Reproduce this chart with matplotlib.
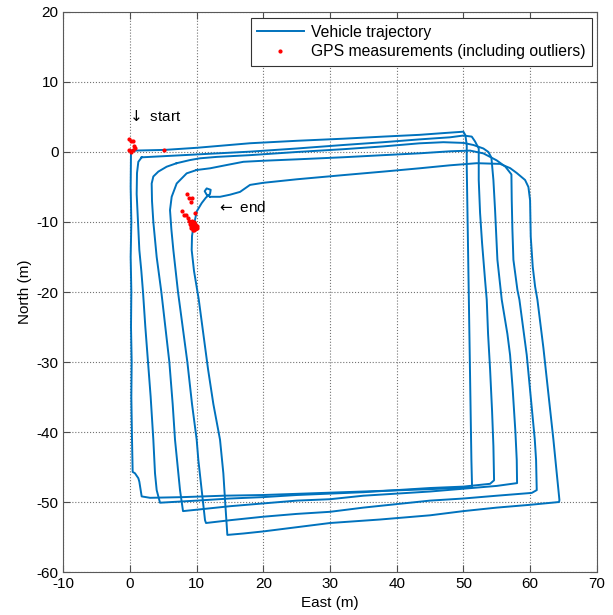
import matplotlib
matplotlib.use("Agg")
import matplotlib.pyplot as plt

plt.rcParams['font.family'] = ['Liberation Sans', 'DejaVu Sans']
plt.rcParams['font.size'] = 11
plt.rcParams['axes.unicode_minus'] = False

# trajectory, one list per lap (east, north in metres)
lap1_e = [0.15, 0.1, 0.2, 0.1, 0.2, 0.15, 0.25, 0.2, 0.3, 0.4, 0.75, 1.25, 1.4, 1.75,
          3, 8, 14, 20, 26, 32, 38, 44, 49, 51.3,
          51.2, 51.1, 51.0, 50.9, 50.8, 50.7, 50.6, 50.5, 50.5, 50.3, 50.0,
          47, 43.4, 38, 32, 25, 18, 10, 5.2, 0.6, 0.15]
lap1_n = [0.2, -5, -10, -15, -20, -25, -30, -35, -41, -45.7, -45.9, -46.6, -47.1, -49.2,
          -49.4, -49.3, -49.1, -49.0, -48.8, -48.6, -48.4, -48.2, -48.0, -47.9,
          -44, -38, -32, -26, -20, -14, -8, -2, 1.0, 2.4, 2.9,
          2.7, 2.45, 2.2, 1.9, 1.6, 1.25, 0.6, 0.3, 0.2, 0.2]

lap2_e = [1.75, 1.25, 1.05, 1.0, 1.2, 1.4, 1.7, 1.95, 2.3, 2.7, 3.1, 3.5, 3.75, 4.0, 4.5,
          10, 15, 20, 25, 30, 35, 40, 45, 50, 54,
          54.6, 54.5, 54.3, 54.0, 53.7, 53.5, 53.25, 52.8, 52.5, 52.3, 52.3, 52.3, 51.75, 51.25, 50,
          48, 43.4, 38, 32, 25, 18, 10, 5, 1.75]
lap2_n = [-0.76, -1.4, -3, -6, -10, -14, -17, -20, -25, -30, -35, -41.1, -45.9, -48.3, -50.1,
          -49.8, -49.5, -49.3, -49.0, -48.8, -48.6, -48.3, -48.0, -47.8, -47.4,
          -46.9, -42, -37, -31, -26, -21.1, -18.3, -13, -8.7, -4, -1.5, 0.5, 1.5, 2.2, 2.35,
          2.1, 1.8, 1.4, 1.0, 0.5, 0.05, -0.35, -0.6, -0.76]

lap3_e = [7, 5.5, 4.25, 3.5, 3.25, 3.3, 3.5, 4.0, 4.7, 5.3, 5.9, 6.4, 6.75, 7.25, 7.5, 7.95,
          10, 15, 20, 25, 30, 35, 40, 45, 50, 55, 58.05,
          58.0, 57.8, 57.4, 57.0, 56.6, 55.75, 55.1, 54.75, 54.5, 54.2, 53.75, 53, 51.5, 50,
          47, 43.4, 38, 32, 25, 18, 13, 10.5, 9, 7]
lap3_n = [-1.6, -2.1, -2.8, -3.5, -4.5, -7, -10, -15, -20, -25, -30, -36, -41.1, -45.9, -48.3, -51.3,
          -51.1, -50.6, -50.2, -49.8, -49.6, -49.1, -48.8, -48.5, -48.1, -47.7, -47.3,
          -44, -40, -34, -29, -26, -21.1, -15.4, -8.3, -4, -0.8, 0, 0.5, 1.0, 1.3,
          1.4, 1.24, 0.8, 0.4, 0.0, -0.45, -0.7, -0.9, -1.15, -1.6]

lap4_e = [10, 8.5, 7, 6.25, 6, 6.2, 6.5, 7.2, 7.9, 8.6, 9.3, 10, 10.25, 10.75, 11.25, 11.4,
          15, 20, 25, 30, 35, 40, 45, 50, 55, 60.25,
          61, 60.9, 60.7, 60.2, 59.5, 58.4, 58.1, 57.5, 57.35, 57.25, 57.2, 56.3, 55, 53, 51, 48,
          43.4, 38, 32, 25, 20, 17, 14.5, 12, 10]
lap4_n = [-2.57, -3.05, -4.5, -6.4, -8.3, -11, -14, -20, -25, -30, -36, -41.1, -44, -48.3, -52.6, -53,
          -52.6, -52.1, -51.7, -51.4, -50.8, -50.3, -49.8, -49.5, -49.1, -48.7,
          -48.3, -44, -41, -36, -29, -21.1, -19.7, -15.4, -11.1, -6.9, -3.2, -2.1, -1.2, -0.2, 0.2, 0.1,
          -0.19, -0.45, -0.75, -1.05, -1.25, -1.4, -1.86, -2.33, -2.57]

lap5_e = [12, 11.5, 11.2, 11.5, 12.1, 12.0, 11.4, 10.75, 10, 9.75, 9.5, 9.3, 9.25, 9.6, 10.3,
          11, 11.7, 12.5, 13.5, 14, 14.25, 14.6,
          17, 20, 25, 30, 37.5, 45, 50, 55, 60, 64.35,
          64.4, 64, 63.5, 62.8, 62, 61.1, 60.75, 60.4, 60.1, 60, 59.75, 59.25, 58, 57, 55.5, 52,
          48, 43.4, 38, 32, 25, 20, 18, 16.5, 15, 13.5, 12]
lap5_n = [-6.4, -6.1, -5.6, -5.2, -5.4, -6.0, -6.5, -7.3, -8.5, -9.7, -10.7, -12, -14, -17, -21,
          -26, -31, -36, -41.1, -45.9, -49.7, -54.7,
          -54.5, -54.2, -53.6, -53.0, -52.5, -51.9, -51.3, -50.8, -50.4, -50.0,
          -49.7, -45.9, -41.1, -35, -28, -21.1, -19.2, -16.4, -12.1, -6.9, -5.0, -4.0, -3.0, -2.3, -1.7, -1.6,
          -1.9, -2.33, -2.8, -3.3, -3.9, -4.4, -4.7, -5.7, -6.1, -6.4, -6.4]

laps = [(lap1_e, lap1_n), (lap2_e, lap2_n), (lap3_e, lap3_n), (lap4_e, lap4_n), (lap5_e, lap5_n)]

# GPS fixes (start cluster, one on the top edge, end cluster)
gps_e = [-0.1, 0.15, 0.4, 0.6, 0.75, 0.5, -0.1, 0.1, 5.1,
         8.5, 8.9, 9.3, 9.1, 7.75, 8.1, 8.4, 9.75, 8.75,
         8.9, 9.1, 9.3, 9.5, 9.7, 9.9, 9.2, 9.4, 9.6, 9.0, 9.8, 10.0, 9.3, 9.6, 9.1, 9.8, 10.0, 9.5]
gps_n = [1.8, 1.6, 1.5, 0.9, 0.5, 0.3, 0.3, 0.05, 0.25,
         -6.0, -6.6, -6.6, -7.1, -8.4, -9.0, -9.0, -8.7, -9.5,
         -9.8, -10.0, -10.2, -10.4, -10.6, -10.8, -10.6, -10.9, -11.1, -10.3, -10.3, -10.6, -9.8, -10.0,
         -10.8, -11.0, -10.9, -11.2]

blue = '#0072BD'

fig = plt.figure(figsize=(6.13, 6.15), dpi=100)
ax = fig.add_axes([0.1033, 0.0699, 0.8702, 0.9106])

for i, (e, n) in enumerate(laps):
    ax.plot(e, n, color=blue, lw=1.4, label="Vehicle trajectory" if i == 0 else None)
ax.plot(gps_e, gps_n, '.', color='red', ms=4, label="GPS measurements (including outliers)")

ax.text(-0.4, 5.1, r"$\downarrow$ start", ha='left', va='center', fontsize=11)
ax.text(13.0, -8.0, r"$\leftarrow$ end", ha='left', va='center', fontsize=11)

ax.set_xlim(-10, 70)
ax.set_ylim(-60, 20)
ax.set_xticks(range(-10, 71, 10))
ax.set_yticks(range(-60, 21, 10))
ax.grid(True, linestyle=':', color='0.45', lw=0.8)
ax.tick_params(direction='in', top=True, right=True, length=5, color='0.3', labelsize=11)
for s in ax.spines.values():
    s.set_color('0.35')
ax.set_xlabel("East (m)", fontsize=11, labelpad=4)
ax.set_ylabel("North (m)", fontsize=11, labelpad=3)

leg = ax.legend(loc='upper right', bbox_to_anchor=(0.9906, 0.9888), borderaxespad=0,
                fancybox=False, edgecolor='0.2', framealpha=1, handlelength=3,
                handletextpad=0.45, labelspacing=0.3, borderpad=0.4, fontsize=11.3)
leg.get_frame().set_linewidth(0.8)

fig.savefig("out.png", dpi=100)
